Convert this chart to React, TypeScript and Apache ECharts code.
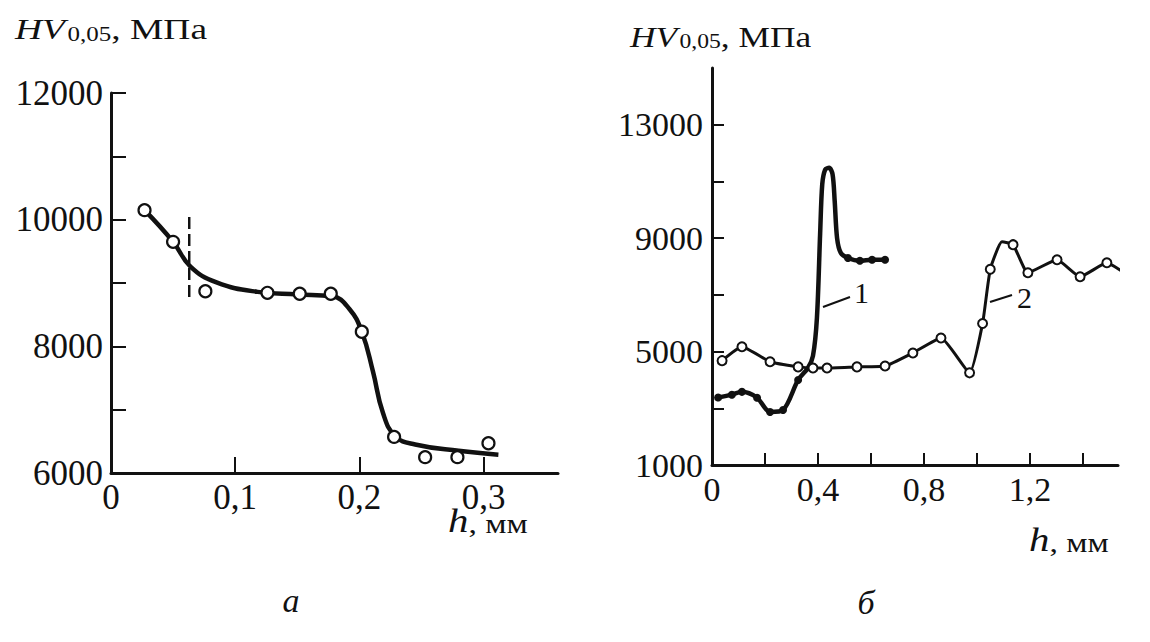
import React, { useEffect, useRef } from "react";
import * as echarts from "echarts";

// ---- Chart (а): HV vs h ----
const hA = [0.027, 0.05, 0.076, 0.126, 0.152, 0.177, 0.202, 0.228, 0.253, 0.279, 0.304];
const hvA = [10150, 9650, 8870, 8845, 8830, 8830, 8230, 6570, 6250, 6250, 6470];
// fitted curve drawn through the points
const fitHA = [0.027, 0.05, 0.064, 0.085, 0.118, 0.15, 0.178, 0.192, 0.202, 0.211, 0.219, 0.229, 0.245, 0.28, 0.312];
const fitHVA = [10150, 9650, 9260, 9010, 8860, 8820, 8790, 8590, 8230, 7600, 6950, 6580, 6450, 6350, 6290];
// dashed vertical marker
const dashH = [0.063, 0.063];
const dashHV = [8780, 10110];
const xTicksA = [0.1, 0.2, 0.3];
const xLabelsA = [0, 0.1, 0.2, 0.3];
const yTicksA = [7000, 8000, 9000, 10000, 11000, 12000];
const yLabelsA = [6000, 8000, 10000, 12000];

// ---- Chart (б): curves 1 and 2 ----
const h1 = [0.023, 0.075, 0.113, 0.17, 0.219, 0.268, 0.325, 0.362, 0.381, 0.396, 0.408, 0.416, 0.427, 0.442, 0.455, 0.463, 0.472, 0.486, 0.513, 0.558, 0.604, 0.653];
const hv1 = [3380, 3480, 3580, 3370, 2870, 2940, 4000, 4420, 4850, 6200, 9150, 10900, 11420, 11480, 11250, 10300, 9000, 8480, 8300, 8200, 8240, 8240];
const dot1 = [1, 1, 1, 1, 1, 1, 1, 0, 0, 0, 0, 0, 0, 0, 0, 0, 0, 0, 1, 1, 1, 1];
const h2 = [0.038, 0.113, 0.219, 0.325, 0.381, 0.434, 0.547, 0.653, 0.758, 0.864, 0.972, 1.021, 1.05, 1.094, 1.136, 1.192, 1.302, 1.389, 1.49, 1.55];
const hv2 = [4680, 5170, 4640, 4460, 4420, 4420, 4460, 4490, 4950, 5480, 4250, 5990, 7900, 8870, 8770, 7780, 8240, 7640, 8130, 7810];
const dot2 = [1, 1, 1, 1, 1, 1, 1, 1, 1, 1, 1, 1, 1, 0, 1, 1, 1, 1, 1, 0];
const xTicksB = [0.2, 0.4, 0.6, 0.8, 1.0, 1.2, 1.4];
const xLabelsB = [0, 0.4, 0.8, 1.2];
const yTicksB = [3000, 5000, 7000, 9000, 11000, 13000];
const yLabelsB = [1000, 5000, 9000, 13000];

const FONT = '"Liberation Serif", "Times New Roman", serif';
const INK = "#111";

const fmtX = (v: number) => String(v).replace(".", ",");
const fmtY = (v: number) => String(v);

function title(x: number, yb: number, sx: number) {
  return {
    type: "group",
    x,
    y: 0,
    scaleX: sx,
    children: [
      { type: "text", x: 0, y: yb, style: { text: "HV", font: `italic 30px ${FONT}`, fill: INK, verticalAlign: "bottom" } },
      { type: "text", x: 42, y: yb, style: { text: "0,05", font: `20px ${FONT}`, fill: INK, verticalAlign: "bottom" } },
      { type: "text", x: 77, y: yb, style: { text: ", МПа", font: `30px ${FONT}`, fill: INK, verticalAlign: "bottom" } },
    ],
  };
}

function hLabel(x: number, yb: number) {
  return {
    type: "group",
    x,
    y: 0,
    scaleX: 1.2,
    children: [
      { type: "text", x: 0, y: yb, style: { text: "h", font: `italic 34px ${FONT}`, fill: INK, verticalAlign: "bottom" } },
      { type: "text", x: 17, y: yb - 1, style: { text: ", мм", font: `28px ${FONT}`, fill: INK, verticalAlign: "bottom" } },
    ],
  };
}

export default function App() {
  const ref = useRef<HTMLDivElement>(null);
  useEffect(() => {
    if (!ref.current) return;
    const chart = echarts.init(ref.current, undefined, { renderer: "svg" });
    const axisLine = { show: true, lineStyle: { color: INK, width: 3 } };
    const mkX = (grid: number, max: number, ticks: number[], labels: number[], len: number, size: number) => ({
      type: "value",
      gridIndex: grid,
      min: 0,
      max,
      axisLine: { ...axisLine, onZero: false },
      splitLine: { show: false },
      axisTick: { show: true, inside: true, length: len, customValues: ticks, lineStyle: { color: INK, width: 2 } },
      axisLabel: { show: true, customValues: labels, formatter: fmtX, fontFamily: FONT, fontSize: size, color: INK, margin: 7 },
    });
    const mkY = (grid: number, min: number, max: number, ticks: number[], labels: number[], len: number, size: number, margin: number) => ({
      type: "value",
      gridIndex: grid,
      min,
      max,
      axisLine: { ...axisLine, onZero: false },
      splitLine: { show: false },
      axisTick: { show: true, inside: true, length: len, customValues: ticks, lineStyle: { color: INK, width: 2 } },
      axisLabel: { show: true, customValues: labels, formatter: fmtY, fontFamily: FONT, fontSize: size, color: INK, margin },
    });

    const zip = (a: number[], b: number[]) => a.map((v, i) => [v, b[i]]);

    chart.setOption({
      animation: false,
      backgroundColor: "#fff",
      grid: [
        { left: 111, top: 93, width: 447, height: 380 },
        { left: 712, top: 68, width: 406, height: 397 },
      ],
      xAxis: [mkX(0, 0.36, xTicksA, xLabelsA, 16, 35), mkX(1, 1.532, xTicksB, xLabelsB, 12, 34)],
      yAxis: [
        mkY(0, 6000, 12000, yTicksA, yLabelsA, 15, 35, 8),
        mkY(1, 1000, 15000, yTicksB, yLabelsB, 12, 34, 9),
      ],
      series: [
        {
          type: "line",
          xAxisIndex: 0,
          yAxisIndex: 0,
          data: zip(fitHA, fitHVA),
          smooth: 0.45,
          symbol: "none",
          lineStyle: { color: INK, width: 4.5 },
          z: 2,
        },
        {
          type: "line",
          xAxisIndex: 0,
          yAxisIndex: 0,
          data: zip(dashH, dashHV),
          symbol: "none",
          lineStyle: { color: INK, width: 2.5, type: [12, 5] },
          z: 2,
        },
        {
          type: "scatter",
          xAxisIndex: 0,
          yAxisIndex: 0,
          data: zip(hA, hvA),
          symbol: "circle",
          symbolSize: 12,
          itemStyle: { color: "#fff", borderColor: INK, borderWidth: 2.2, opacity: 1 },
          z: 4,
        },
        {
          type: "line",
          xAxisIndex: 1,
          yAxisIndex: 1,
          data: h1.map((v, i) => ({ value: [v, hv1[i]], symbol: dot1[i] ? "circle" : "none" })),
          smooth: 0.3,
          showAllSymbol: true,
          symbolSize: 8,
          itemStyle: { color: INK },
          lineStyle: { color: INK, width: 4.5 },
          clip: false,
          z: 2,
        },
        {
          type: "line",
          xAxisIndex: 1,
          yAxisIndex: 1,
          data: h2.map((v, i) => ({ value: [v, hv2[i]], symbol: dot2[i] ? "circle" : "none" })),
          smooth: 0.15,
          showAllSymbol: true,
          symbolSize: 9,
          itemStyle: { color: "#fff", borderColor: INK, borderWidth: 2 },
          lineStyle: { color: INK, width: 3 },
          clip: false,
          z: 3,
        },
      ],
      graphic: [
        title(15, 44, 1.25),
        title(630, 52, 1.18),
        hLabel(448, 538),
        hLabel(1029, 557),
        { type: "line", shape: { x1: 823, y1: 307, x2: 850, y2: 297 }, style: { stroke: INK, lineWidth: 2 } },
        { type: "text", x: 854, y: 292, style: { text: "1", font: `30px ${FONT}`, fill: INK, verticalAlign: "middle" } },
        { type: "line", shape: { x1: 990, y1: 302, x2: 1012, y2: 295 }, style: { stroke: INK, lineWidth: 2 } },
        { type: "text", x: 1017, y: 297, style: { text: "2", font: `30px ${FONT}`, fill: INK, verticalAlign: "middle" } },
        { type: "text", x: 291, y: 617, style: { text: "а", font: `italic 34px ${FONT}`, fill: INK, align: "center", verticalAlign: "bottom" } },
        { type: "text", x: 866, y: 619, style: { text: "б", font: `italic 34px ${FONT}`, fill: INK, align: "center", verticalAlign: "bottom" } },
      ],
    });
    return () => chart.dispose();
  }, []);
  return <div ref={ref} style={{ position: "absolute", left: 0, top: 0, width: 1150, height: 642, background: "#fff" }} />;
}
